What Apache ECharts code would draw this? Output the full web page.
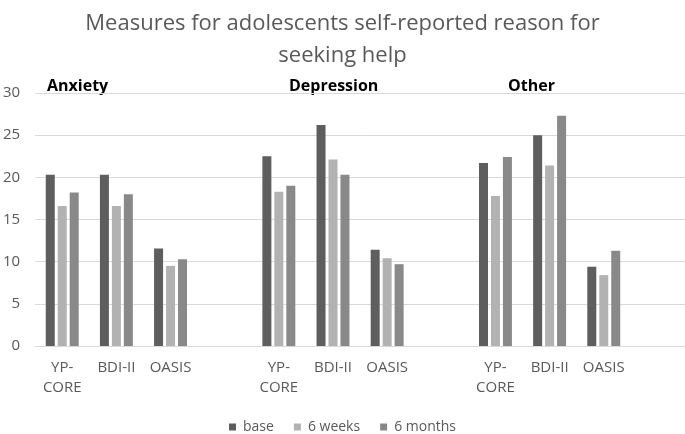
<!DOCTYPE html>
<html>
<head>
<meta charset="utf-8">
<script src="https://cdn.jsdelivr.net/npm/echarts@6/dist/echarts.min.js"></script>
<style>html,body{margin:0;padding:0;background:#fff}#c{width:685px;height:434px}</style>
</head>
<body>
<div id="c"></div>
<script>
const categories = ['YP-\nCORE','BDI-II','OASIS','','YP-\nCORE','BDI-II','OASIS','','YP-\nCORE','BDI-II','OASIS',''];
const base     = [20.3, 20.3, 11.55, null, 22.5, 26.2, 11.4, null, 21.7, 25.0, 9.4, null];
const weeks6   = [16.6, 16.6, 9.5,  null, 18.3, 22.1, 10.4, null, 17.8, 21.4, 8.4, null];
const months6  = [18.2, 18.0, 10.3, null, 19.0, 20.3, 9.7,  null, 22.4, 27.3, 11.3, null];
const seriesNames = ['base', '6 weeks', '6 months'];
const groups = ['Anxiety', 'Depression', 'Other'];
const yTicks = {min: 0, max: 30, interval: 5};

const colors = ['#5e5e5e', '#b2b2b2', '#898989'];
const chart = echarts.init(document.getElementById('c'));
const groupX = [87, 329, 548];
chart.setOption({
  animation: false,
  color: colors,
  title: {
    text: 'Measures for adolescents self-reported reason for\nseeking help',
    left: 'center', top: 3,
    textStyle: {fontFamily: 'Open Sans', fontWeight: 'normal', fontSize: 22, color: '#595959', lineHeight: 32}
  },
  legend: {
    top: 415, left: 'center', itemWidth: 7, itemHeight: 7, itemGap: 20,
    icon: 'rect',
    textStyle: {fontFamily: 'Open Sans', fontSize: 14, color: '#595959', padding: [0, 0, 0, 2]},
    data: seriesNames
  },
  grid: {left: 32, right: 0, top: 93, bottom: 88, containLabel: false},
  xAxis: {
    type: 'category', data: categories,
    axisTick: {show: false},
    axisLine: {lineStyle: {color: '#d9d9d9'}},
    axisLabel: {interval: 0, fontFamily: 'Open Sans', fontSize: 15, color: '#595959', lineHeight: 20, margin: 12}
  },
  yAxis: {
    type: 'value', min: yTicks.min, max: yTicks.max, interval: yTicks.interval,
    axisLine: {show: false}, axisTick: {show: false},
    splitLine: {lineStyle: {color: '#d9d9d9', width: 1}},
    axisLabel: {fontFamily: 'Open Sans', fontSize: 15, color: '#595959', margin: 15}
  },
  graphic: groups.map((g, i) => ({
    type: 'text', left: groupX[i] - 40, top: 78,
    style: {text: g, width: 80, align: 'center', x: 40, fontFamily: 'Open Sans', fontWeight: 'bold', fontSize: 16, fill: '#000'}
  })),
  series: [base, weeks6, months6].map((d, i) => ({
    name: seriesNames[i], type: 'bar', data: d, barWidth: 9, barGap: '33%',
    itemStyle: {color: colors[i]}
  }))
});
</script>
</body>
</html>
